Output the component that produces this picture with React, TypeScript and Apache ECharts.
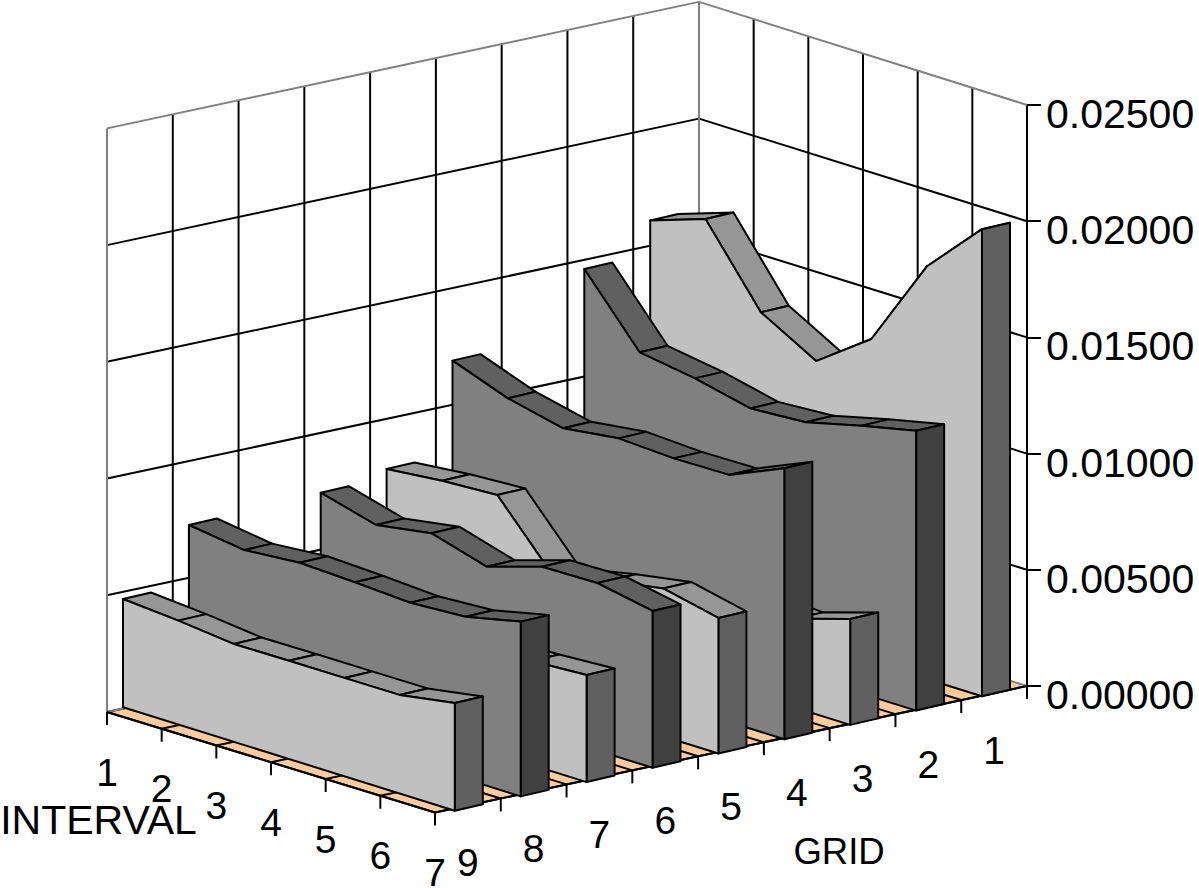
import React, { useEffect, useRef } from "react";
import * as echarts from "echarts";

// Categories along the two floor axes.
const intervals = ["1", "2", "3", "4", "5", "6", "7"];
const grids = ["9", "8", "7", "6", "5", "4", "3", "2", "1"];

// Values per grid cell, one entry per interval.
const grid9 = [0.00466, 0.00447, 0.00421, 0.00423, 0.00423, 0.00424, 0.00463];
const grid8 = [0.00723, 0.00689, 0.00709, 0.00699, 0.00685, 0.00699, 0.00752];
const grid7 = [0.0045, 0.0044, 0.0044, 0.0044, 0.0044, 0.00447, 0.00461];
const grid6 = [0.00739, 0.00674, 0.00713, 0.00643, 0.00717, 0.00721, 0.00675];
const grid5 = [0.00779, 0.00803, 0.00816, 0.00546, 0.00595, 0.00636, 0.00583];
const grid4 = [0.01184, 0.01096, 0.01041, 0.01072, 0.0106, 0.01063, 0.01166];
const grid3 = [0.0058, 0.0054, 0.0048, 0.0044, 0.004, 0.00382, 0.00456];
const grid2 = [0.01455, 0.01171, 0.01133, 0.01078, 0.01092, 0.01151, 0.01204];
const grid1 = [0.01602, 0.01683, 0.01356, 0.0122, 0.01389, 0.01775, 0.0201];

const rows = [grid9, grid8, grid7, grid6, grid5, grid4, grid3, grid2, grid1];
const valueTicks = [0.005, 0.01, 0.015, 0.02];

// Oblique projection of the box: floor corners in pixels.
const floorLeft: number[] = [107, 712];
const floorFront: number[] = [435, 812.5];
const floorRight: number[] = [1027, 686];
const floorBack: number[] = [
  floorLeft[0] + floorRight[0] - floorFront[0],
  floorLeft[1] + floorRight[1] - floorFront[1],
];

// Ribbon placement on the floor.
const ribbonOrigin = [123, 707.3];
const ribbonStep = [65.9, -14.3];
const ribbonRun = [55.3, 17.23];
const ribbonDepth = [28, -6.5];

const FONT = '"Liberation Sans", Arial, sans-serif';
const BLACK = "#000000";
const WALL_EDGE = "#808080";
const LINE = 2;

const lerp = (a: number[], b: number[], t: number) => [
  a[0] + (b[0] - a[0]) * t,
  a[1] + (b[1] - a[1]) * t,
];
const add = (a: number[], b: number[]) => [a[0] + b[0], a[1] + b[1]];

const segment = (p: number[], q: number[], stroke = BLACK, lineWidth = LINE) => ({
  type: "line",
  shape: { x1: p[0], y1: p[1], x2: q[0], y2: q[1] },
  style: { stroke, lineWidth },
  silent: true,
});

const label = (text: string, p: number[], size: number) => ({
  type: "text",
  x: p[0],
  y: p[1],
  silent: true,
  style: {
    text,
    fill: BLACK,
    fontSize: size,
    fontFamily: FONT,
    align: "center",
    verticalAlign: "middle",
  },
});

// Walls, floor, their grid lines and the two floor axes.
function renderBox(_params: any, api: any) {
  // The far walls read very slightly taller than the value axis at the right edge.
  const up = (p: number[], v: number) => {
    const stretch = 1 + 0.0045 * Math.min(1, (floorRight[0] - p[0]) / 328);
    return [p[0], p[1] - api.size([0, v])[1] * stretch];
  };
  const top = 0.025;
  const children: any[] = [];

  children.push({
    type: "polygon",
    shape: { points: [floorLeft, floorBack, floorRight, floorFront] },
    style: { fill: "#ffcc99", stroke: "none" },
    silent: true,
  });

  const nInt = intervals.length - 1;
  const nGrid = grids.length;

  // Floor divisions.
  intervals.forEach((_, i) => {
    const t = i / nInt;
    children.push(segment(lerp(floorLeft, floorFront, t), lerp(floorBack, floorRight, t)));
  });
  grids.forEach((_, k) => {
    const t = k / nGrid;
    children.push(segment(lerp(floorFront, floorRight, t), lerp(floorLeft, floorBack, t)));
  });

  // Wall grid lines.
  grids.forEach((_, k) => {
    if (k === 0) return;
    const p = lerp(floorLeft, floorBack, k / nGrid);
    children.push(segment(p, up(p, top)));
  });
  intervals.forEach((_, i) => {
    if (i === 0 || i === nInt) return;
    const p = lerp(floorBack, floorRight, i / nInt);
    children.push(segment(p, up(p, top)));
  });
  valueTicks.forEach((v) => {
    children.push(segment(up(floorLeft, v), up(floorBack, v)));
    children.push(segment(up(floorBack, v), up(floorRight, v)));
  });

  // Wall outline.
  children.push(segment(floorLeft, up(floorLeft, top), WALL_EDGE, 2));
  children.push(segment(floorBack, up(floorBack, top), WALL_EDGE, 2));
  children.push(segment(up(floorLeft, top), up(floorBack, top), WALL_EDGE, 2));
  children.push(segment(up(floorBack, top), up(floorRight, top), WALL_EDGE, 2));
  children.push(segment(floorLeft, floorBack, WALL_EDGE, 2));
  children.push(segment(floorBack, floorRight, WALL_EDGE, 2));

  // Floor front edges, ticks and tick labels.
  children.push(segment(floorLeft, floorFront));
  children.push(segment(floorFront, floorRight));
  intervals.forEach((name, i) => {
    const p = lerp(floorLeft, floorFront, i / nInt);
    children.push(segment(p, add(p, [0, 13])));
    children.push(label(name, add(p, [0, 60]), 39));
  });
  grids.forEach((name, k) => {
    const q = lerp(floorFront, floorRight, (k + 1) / nGrid);
    children.push(segment(q, add(q, [0, 13])));
    children.push(label(name, add(lerp(floorFront, floorRight, (k + 0.5) / nGrid), [0, 57]), 39));
  });

  children.push(label("INTERVAL", [98.5, 820], 41));
  children.push(label("GRID", [839, 851], 36.5));

  return { type: "group", children };
}

// One extruded ribbon per row: top facets, end cap, then the front face over them.
function renderRibbon(_params: any, api: any) {
  const k = api.value(0);
  const light = k % 2 === 0;
  const frontFill = light ? "#c0c0c0" : "#808080";
  const topFill = light ? "#969696" : "#606060";
  const sideFill = light ? "#606060" : "#404040";

  const base: number[][] = [];
  const crest: number[][] = [];
  intervals.forEach((_, i) => {
    const b = [
      ribbonOrigin[0] + ribbonStep[0] * k + ribbonRun[0] * i,
      ribbonOrigin[1] + ribbonStep[1] * k + ribbonRun[1] * i,
    ];
    base.push(b);
    crest.push([b[0], b[1] - api.size([0, api.value(i + 1)])[1]]);
  });

  const style = (fill: string) => ({ fill, stroke: BLACK, lineWidth: LINE, lineJoin: "round" });
  const children: any[] = [];

  for (let i = 0; i < crest.length - 1; i++) {
    children.push({
      type: "polygon",
      silent: true,
      shape: {
        points: [crest[i], crest[i + 1], add(crest[i + 1], ribbonDepth), add(crest[i], ribbonDepth)],
      },
      style: style(topFill),
    });
  }

  const last = crest.length - 1;
  children.push({
    type: "polygon",
    silent: true,
    shape: {
      points: [crest[last], add(crest[last], ribbonDepth), add(base[last], ribbonDepth), base[last]],
    },
    style: style(sideFill),
  });

  children.push({
    type: "polygon",
    silent: true,
    shape: { points: [...crest, base[last], base[0]] },
    style: style(frontFill),
  });

  return { type: "group", children };
}

export default function App() {
  const ref = useRef<HTMLDivElement>(null);

  useEffect(() => {
    const chart = echarts.init(ref.current!, undefined, { renderer: "svg" });
    chart.setOption({
      animation: false,
      backgroundColor: "#ffffff",
      grid: { left: 107, right: 172, top: 105, bottom: 202 },
      xAxis: { type: "value", min: 0, max: 8, show: false },
      yAxis: {
        type: "value",
        position: "right",
        min: 0,
        max: 0.025,
        interval: 0.005,
        splitLine: { show: false },
        axisLine: { show: true, onZero: false, lineStyle: { color: BLACK, width: LINE } },
        axisTick: { show: true, length: 14, lineStyle: { color: BLACK, width: LINE } },
        axisLabel: {
          color: BLACK,
          fontSize: 41,
          fontFamily: FONT,
          margin: 19,
          verticalAlign: "top",
          lineHeight: 18,
          formatter: (v: number) => v.toFixed(5),
        },
      },
      series: [
        {
          type: "custom",
          coordinateSystem: "cartesian2d",
          clip: false,
          z: 1,
          encode: { x: 0, y: 1 },
          data: [[0, 0]],
          renderItem: renderBox,
        },
        {
          type: "custom",
          coordinateSystem: "cartesian2d",
          clip: false,
          z: 2,
          encode: { x: 0, y: 1 },
          // Painted from the back row to the front one.
          data: rows.map((values, k) => [k, ...values]).reverse(),
          renderItem: renderRibbon,
        },
      ],
    });
    return () => chart.dispose();
  }, []);

  return (
    <div
      ref={ref}
      style={{ position: "absolute", left: 0, top: 0, width: 1199, height: 888, overflow: "hidden" }}
    />
  );
}
